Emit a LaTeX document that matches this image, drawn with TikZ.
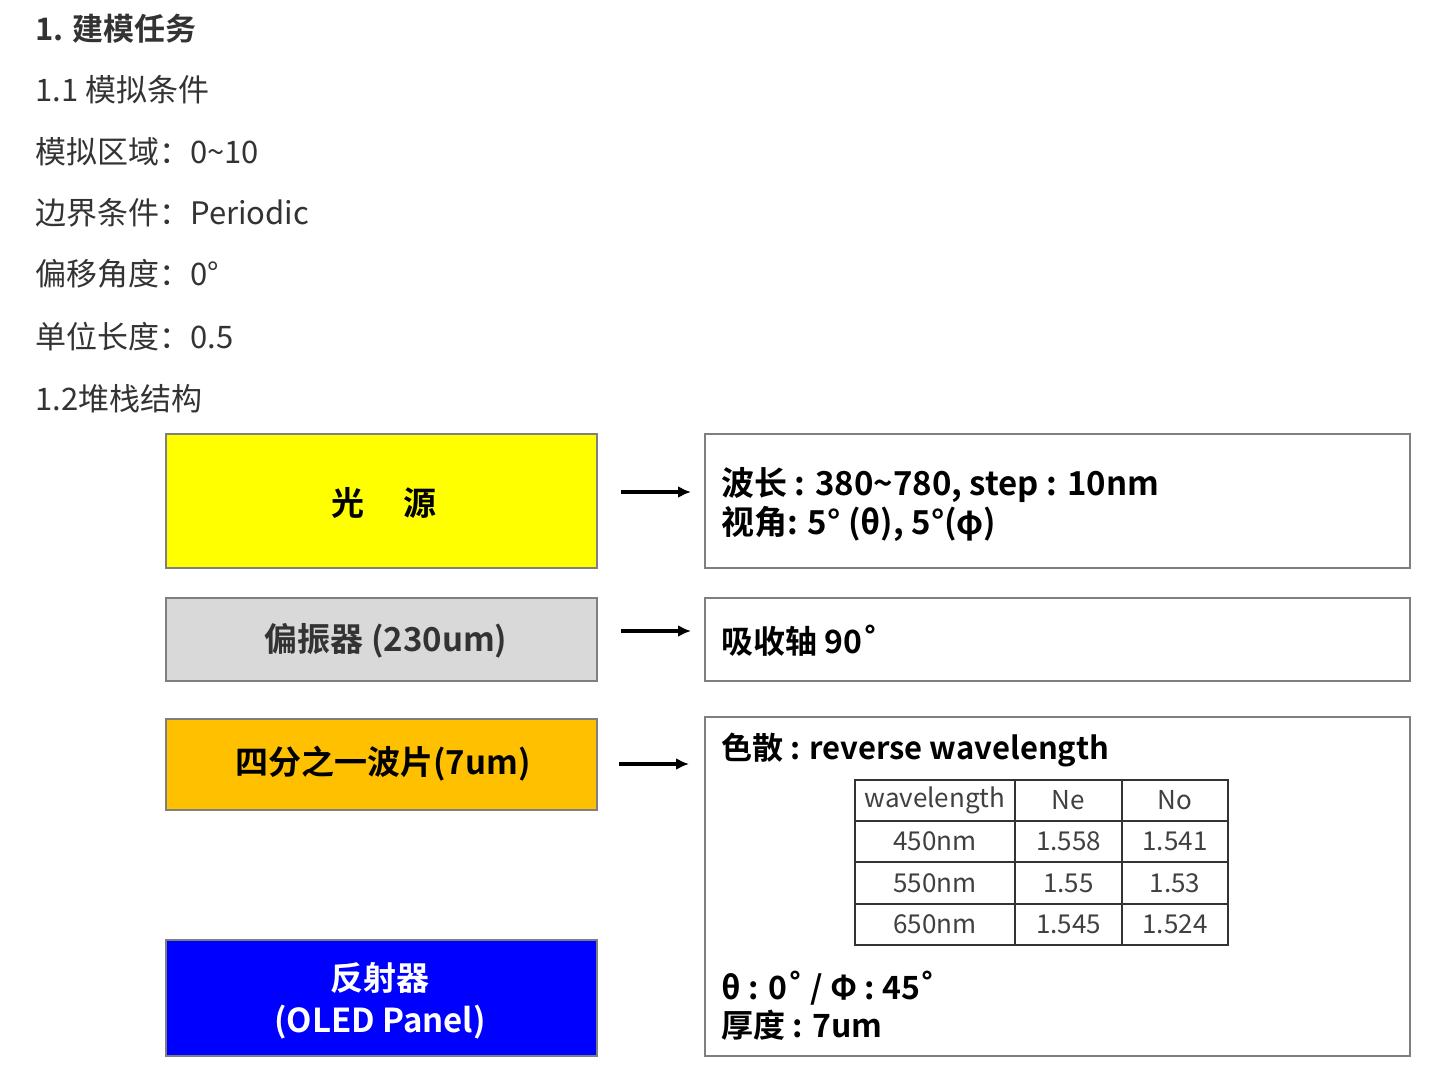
\documentclass[tikz,border=0pt]{standalone}
\usepackage{fontspec}
\setmainfont{Noto Sans CJK SC}
\newfontfamily\cjkb{Noto Sans CJK SC Bold}
\newfontfamily\djvb{DejaVu Sans Bold}
\newcommand{\ringdeg}{{\djvb ˚}}
\usetikzlibrary{arrows.meta}
\definecolor{txt}{HTML}{333333}
\definecolor{tabtxt}{HTML}{404040}
\definecolor{boxline}{HTML}{7F7F7F}
\tikzset{
  toptext/.style={anchor=base west,inner sep=0pt,text=txt,font=\fontsize{31}{36}\selectfont},
  layerbox/.style={draw=boxline,line width=2pt,inner sep=0pt},
  infobox/.style={draw=boxline,line width=2pt,fill=white,inner sep=0pt},
  infotext/.style={anchor=base west,inner sep=0pt,text=black,font=\cjkb\fontsize{32}{36}\selectfont},
  layertext/.style={inner sep=0pt,font=\cjkb\fontsize{33}{38}\selectfont},
  arr/.style={line width=3.4pt,-{Latex[length=13pt,width=12pt]}},
  cell/.style={draw=txt,line width=2pt,inner sep=0pt,outer sep=0pt,text=tabtxt,font=\fontsize{26}{28}\selectfont}
}
\begin{document}
\begin{tikzpicture}[x=1pt,y=-1pt]
\useasboundingbox (0,0) rectangle (1441,1073);
% top text
\node[toptext,font=\cjkb\fontsize{31}{36}\selectfont] (h1) at (35,41) {1. 建模任务};
\node[toptext] (h11) at (35,102) {1.1 模拟条件};
\node[toptext] (t1) at (35,163) {模拟区域：0\textasciitilde10};
\node[toptext] (t2) at (35,224) {边界条件：Periodic};
\node[toptext] (t3) at (35,285) {偏移角度：0°};
\node[toptext] (t4) at (35,348) {单位长度：0.5};
\node[toptext] (h12) at (35,410) {1.2堆栈结构};
% left layer boxes
\path[layerbox,fill={rgb,255:red,255;green,255;blue,0}] (166,434) rectangle (597,568);
\node[layertext] (src) at (384,503) {光\hspace{1.2em}源};
\path[layerbox,fill={rgb,255:red,217;green,217;blue,217}] (166,598) rectangle (597,681);
\node[layertext,text=txt] (pol) at (386,641) {偏振器 (230um)};
\path[layerbox,fill={rgb,255:red,255;green,192;blue,0}] (166,719) rectangle (597,810);
\node[layertext] (qwp) at (383,764) {四分之一波片(7um)};
\path[layerbox,fill={rgb,255:red,0;green,0;blue,255}] (166,940) rectangle (597,1056);
\node[layertext,text=white,align=center,font=\cjkb\fontsize{33}{42}\selectfont] (refl) at (380,1001) {反射器\\(OLED Panel)};
% right info boxes
\path[infobox] (705,434) rectangle (1410,568);
\path[infobox] (705,598) rectangle (1410,681);
\path[infobox] (705,717) rectangle (1410,1056);
\coordinate (a1s) at (621,492); \coordinate (a1e) at (691,492);
\coordinate (a2s) at (621,631); \coordinate (a2e) at (691,631);
\coordinate (a3s) at (619,764); \coordinate (a3e) at (689,764);
\draw[arr] (a1s) -- (a1e);
\draw[arr] (a2s) -- (a2e);
\draw[arr] (a3s) -- (a3e);
\node[infotext,font=\cjkb\fontsize{33}{36}\selectfont] (i1a) at (721,495) {波长 : 380\textasciitilde780, step : 10nm};
\node[infotext,font=\cjkb\fontsize{33}{36}\selectfont] (i1b) at (721,534) {视角: 5° (θ), 5°(φ)};
\node[infotext] (i2) at (721,653) {吸收轴 90\ringdeg};
\node[infotext,font=\cjkb\fontsize{31}{36}\selectfont] (i3a) at (721,759) {色散 : reverse wavelength};
\node[infotext] (i3b) at (721,999) {θ : 0\ringdeg\ / Φ : 45\ringdeg};
\node[infotext] (i3c) at (721,1037) {厚度 : 7um};
% table (columns 855|1015|1122|1228, rows 780|821|862|904|945)
\node[cell,minimum width=160pt,minimum height=41pt] (c11) at (935,800.5) {wavelength};
\node[cell,minimum width=107pt,minimum height=41pt] (c12) at (1068.5,800.5) {Ne};
\node[cell,minimum width=106pt,minimum height=41pt] (c13) at (1175,800.5) {No};
\node[cell,minimum width=160pt,minimum height=41pt] (c21) at (935,841.5) {450nm};
\node[cell,minimum width=107pt,minimum height=41pt] (c22) at (1068.5,841.5) {1.558};
\node[cell,minimum width=106pt,minimum height=41pt] (c23) at (1175,841.5) {1.541};
\node[cell,minimum width=160pt,minimum height=42pt] (c31) at (935,883) {550nm};
\node[cell,minimum width=107pt,minimum height=42pt] (c32) at (1068.5,883) {1.55};
\node[cell,minimum width=106pt,minimum height=42pt] (c33) at (1175,883) {1.53};
\node[cell,minimum width=160pt,minimum height=41pt] (c41) at (935,924.5) {650nm};
\node[cell,minimum width=107pt,minimum height=41pt] (c42) at (1068.5,924.5) {1.545};
\node[cell,minimum width=106pt,minimum height=41pt] (c43) at (1175,924.5) {1.524};
\end{tikzpicture}
\end{document}
